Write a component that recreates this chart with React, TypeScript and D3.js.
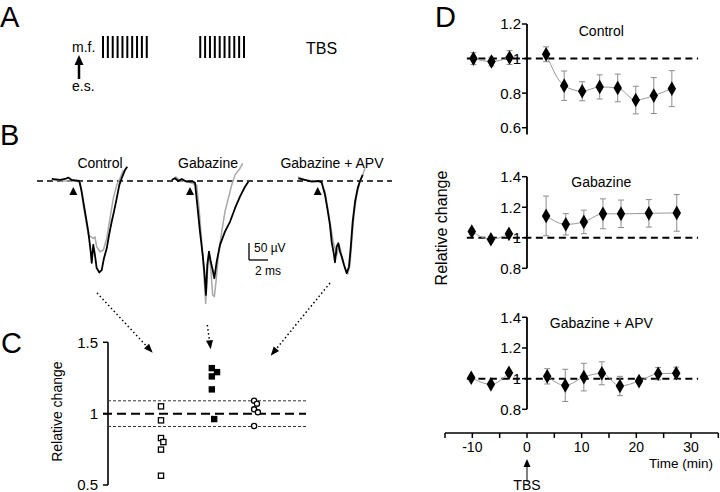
import React from "react";
import * as d3 from "d3";

// ---------- Panel A: TBS schematic ----------
const burstStarts = [0, 200]; // ms
const pulseOffsets = [0, 10, 20, 30, 40, 50, 60, 70, 80, 90]; // ms

// ---------- Panel B: field potential traces [time ms, amplitude µV] ----------
const traceNames = ["Control", "Gabazine", "Gabazine + APV"];
const controlBefore: [number, number][] = [
  [-2.27, 6], [-1.4, 3], [-0.87, 6], [-0.53, 10], [-0.17, 3], [0.63, 0], [0.88, -31], [1.23, -90],
  [1.58, -149], [1.83, -208], [1.94, -241], [2.1, -188], [2.28, -218], [2.46, -256], [2.74, -269],
  [2.99, -262], [3.23, -227], [3.52, -198], [3.76, -159], [4.04, -120], [4.28, -90], [4.57, -51],
  [4.84, -12], [5.09, 8], [5.44, 32], [5.68, 42],
];
const controlAfter: [number, number][] = [
  [-2.24, 3], [-1.19, 0], [-0.35, 0], [0.71, -2], [1.05, -71], [1.58, -159], [2.1, -169], [2.28, -164],
  [2.46, -193], [2.81, -208], [3.16, -203], [3.52, -169], [3.86, -110], [4.21, -51], [4.57, -12],
  [4.92, 8], [5.26, 32],
];
const gabazineBefore: [number, number][] = [
  [-1.93, 3], [-1.58, 8], [-1.23, 0], [-0.87, 6], [-0.35, -2], [0.35, -2], [0.53, -6], [0.77, -71],
  [1.05, -149], [1.34, -218], [1.51, -267], [1.68, -335], [1.82, -247], [2.0, -208], [2.18, -237],
  [2.39, -262], [2.56, -286], [2.81, -237], [3.16, -188], [3.68, -149], [4.21, -120], [4.74, -80],
  [5.26, -46], [5.79, -17], [6.14, -2],
];
const gabazineAfter: [number, number][] = [
  [-1.89, 3], [-1.47, 12], [-1.05, 0], [-0.42, 0], [0.71, -12], [0.98, -90], [1.23, -179], [1.47, -276],
  [1.65, -360], [1.82, -276], [2.0, -208], [2.18, -257], [2.39, -335], [2.56, -340], [2.74, -296],
  [2.98, -218], [3.34, -149], [3.68, -90], [4.03, -51], [4.39, -12], [4.74, 18], [5.26, 37], [5.55, 52],
];
const apvBefore: [number, number][] = [
  [-2.04, 8], [-1.34, 3], [-0.63, -2], [0.06, 0], [0.42, -4], [0.77, -41], [1.01, -80], [1.29, -129],
  [1.47, -179], [1.72, -218], [1.82, -239], [2.0, -193], [2.17, -183], [2.35, -208], [2.53, -223],
  [2.77, -247], [3.05, -271], [3.29, -252], [3.47, -198], [3.68, -120], [3.93, -61], [4.21, -21],
  [4.45, 0], [4.74, 18],
];
const apvAfter: [number, number][] = [
  [-2.07, 12], [-1.34, 3], [-0.6, 0], [0.35, -3], [0.77, -31], [1.29, -120], [1.64, -179], [2.0, -218],
  [2.27, -188], [2.53, -218], [2.88, -257], [3.16, -274], [3.4, -247], [3.58, -179], [3.82, -100],
  [4.11, -41], [4.45, -2], [4.8, 23], [4.98, 38],
];

// ---------- Panel C: individual relative changes ----------
const cCategories = ["Control", "Gabazine", "Gabazine + APV"];
const cControl = [1.051, 0.953, 0.829, 0.801, 0.748, 0.565];
const cControlJitter = [0, 0, 0, 0.05, 0, 0];
const cGabazine = [1.319, 1.291, 1.261, 1.17, 0.962];
const cGabazineJitter = [0.07, 0.18, 0.07, 0.07, 0.12];
const cApv = [1.091, 1.07, 1.03, 1.009, 0.913];
const cApvJitter = [-0.04, 0.02, -0.04, 0.04, -0.04];
const cTicks = [0.5, 1, 1.5];
const cBandLines = [0.91, 1.09];

// ---------- Panel D: time course ----------
const dTimeTicks = [-15, -10, -5, 0, 5, 10, 15, 20, 25, 30, 35];
const dTimeLabels = [-10, 0, 10, 20, 30];

const dControlTime = [-9.8, -6.5, -3.2, 3.5, 6.8, 10.1, 13.3, 16.6, 19.9, 23.2, 26.5];
const dControlMean = [1.0, 0.983, 1.006, 1.025, 0.843, 0.811, 0.836, 0.83, 0.76, 0.786, 0.826];
const dControlErr = [0.034, 0.025, 0.04, 0.043, 0.085, 0.055, 0.07, 0.08, 0.08, 0.104, 0.104];

const dGabazineTime = [-10.1, -6.6, -3.3, 3.5, 7.1, 10.4, 13.9, 17.2, 22.3, 27.4];
const dGabazineMean = [1.041, 0.99, 1.026, 1.143, 1.088, 1.104, 1.157, 1.157, 1.16, 1.163];
const dGabazineErr = [0.01, 0.01, 0.012, 0.13, 0.07, 0.077, 0.098, 0.09, 0.09, 0.12];

const dApvTime = [-10.2, -6.6, -3.3, 3.7, 7.0, 10.4, 13.7, 17.0, 20.5, 24.0, 27.3];
const dApvMean = [1.006, 0.963, 1.038, 1.015, 0.956, 1.01, 1.035, 0.952, 0.984, 1.032, 1.035];
const dApvErr = [0.01, 0.01, 0.01, 0.05, 0.105, 0.09, 0.075, 0.063, 0.015, 0.04, 0.04];

const dControlTicks = [0.6, 0.8, 1, 1.2];
const dOtherTicks = [0.8, 1, 1.2, 1.4];

const FONT = "'Liberation Sans', Arial, Helvetica, sans-serif";
const GRAY_TRACE = "#a8a8a8";
const ERR = "#8c8c8c";
const fmt = (v: number) => (v === 1 ? "1" : v.toFixed(1));

function Arrow({ x1, y1, x2, y2, dotted, head = 8, width = 7, sw = 1.5 }: any) {
  const ang = Math.atan2(y2 - y1, x2 - x1);
  const bx = x2 - head * Math.cos(ang);
  const by = y2 - head * Math.sin(ang);
  const px = -Math.sin(ang) * (width / 2);
  const py = Math.cos(ang) * (width / 2);
  return (
    <g>
      <line x1={x1} y1={y1} x2={bx} y2={by} stroke="#000" strokeWidth={sw}
        strokeDasharray={dotted ? "1.5,2.6" : undefined} />
      <path d={`M${x2},${y2}L${bx + px},${by + py}L${bx - px},${by - py}Z`} fill="#000" />
    </g>
  );
}

function DSubplot({ times, means, errs, y, ticks, axisBottom, title, titleY, x }: any) {
  const idx = d3.range(times.length);
  const pre = idx.filter((i) => times[i] < 0);
  const post = idx.filter((i) => times[i] > 0);
  const line = d3.line<number>().x((i) => x(times[i])).y((i) => y(means[i])).curve(d3.curveMonotoneX);
  const x0 = x(0);
  const diamond = d3.symbol().type(d3.symbolDiamond).size(62)();
  return (
    <g>
      <line x1={x(-11)} x2={x(31.3)} y1={y(1)} y2={y(1)} stroke="#000" strokeWidth={2} strokeDasharray="7,4.5" />
      <line x1={x0} x2={x0} y1={y(ticks[ticks.length - 1])} y2={y(axisBottom)} stroke="#000" strokeWidth={1.8} />
      {ticks.map((t: number) => (
        <g key={t}>
          <line x1={x0 - 5} x2={x0} y1={y(t)} y2={y(t)} stroke="#000" strokeWidth={1.5} />
          <text x={x0 - 6} y={y(t)} dy="0.36em" textAnchor="end" fontSize={15}>{fmt(t)}</text>
        </g>
      ))}
      <path d={line(pre) || ""} fill="none" stroke="#999" strokeWidth={1} />
      <path d={line(post) || ""} fill="none" stroke="#999" strokeWidth={1} />
      {idx.map((i) => (
        <g key={"e" + i} stroke={ERR} strokeWidth={1}>
          <line x1={x(times[i])} x2={x(times[i])} y1={y(means[i] - errs[i])} y2={y(means[i] + errs[i])} />
          <line x1={x(times[i]) - 3} x2={x(times[i]) + 3} y1={y(means[i] - errs[i])} y2={y(means[i] - errs[i])} />
          <line x1={x(times[i]) - 3} x2={x(times[i]) + 3} y1={y(means[i] + errs[i])} y2={y(means[i] + errs[i])} />
        </g>
      ))}
      {idx.map((i) => (
        <path key={"p" + i} d={diamond || ""} transform={`translate(${x(times[i])},${y(means[i])})`} fill="#000" />
      ))}
      <text x={x(13.6)} y={titleY} textAnchor="middle" fontSize={14}>{title}</text>
    </g>
  );
}

export default function App() {
  // Panel A
  const ax = d3.scaleLinear().domain([0, 290]).range([103, 244]);
  const pulses = burstStarts.flatMap((b) => pulseOffsets.map((p) => b + p));

  // Panel B
  const traceOrigins = [73.3, 190, 317.7];
  const bY = d3.scaleLinear().domain([0, -50]).range([181, 198]);
  const msPx = 9.5;
  const traceSets = [
    [controlBefore, controlAfter],
    [gabazineBefore, gabazineAfter],
    [apvBefore, apvAfter],
  ];
  const traceTitleX = [100, 208, 332];
  const barDy = 62; // scale bar offset below baseline
  const barX = 249;

  // Panel C
  const cx = d3.scalePoint<string>().domain(cCategories).range([161, 256]);
  const cStep = cx.step();
  const cy = d3.scaleLinear().domain([0.5, 1.5]).range([485, 342.3]);
  const cAxisX = 108;

  // Panel D
  const dx = d3.scaleLinear().domain([-15, 35]).range([445, 718.3]);
  const yCtrl = d3.scaleLinear().domain([0.6, 1.2]).range([127.7, 24]);
  const yGab = d3.scaleLinear().domain([0.8, 1.4]).range([268.3, 176.7]);
  const yApv = d3.scaleLinear().domain([0.8, 1.4]).range([409.3, 317.3]);
  const axisY = 433;

  return (
    <svg width={720} height={492} style={{ position: "absolute", left: 0, top: 0, background: "#fff" }}
      fontFamily={FONT}>
      <rect width={720} height={492} fill="#fff" />
      {/* Panel letters */}
      <text x={0} y={26.5} fontSize={29}>A</text>
      <text x={0} y={145} fontSize={29}>B</text>
      <text x={1} y={353} fontSize={29}>C</text>
      <text x={435} y={26.5} fontSize={29}>D</text>

      {/* ---- Panel A ---- */}
      <text x={72} y={52} fontSize={14}>m.f.</text>
      <Arrow x1={79} y1={79} x2={79} y2={55} head={10} width={9} sw={2.5} />
      <text x={72} y={91} fontSize={14}>e.s.</text>
      {pulses.map((p) => (
        <line key={p} x1={ax(p)} x2={ax(p)} y1={36} y2={58} stroke="#000" strokeWidth={2} />
      ))}
      <text x={306} y={54} fontSize={16}>TBS</text>

      {/* ---- Panel B ---- */}
      <line x1={37} x2={392} y1={181} y2={181} stroke="#000" strokeWidth={1.6} strokeDasharray="6,4" />
      {traceSets.map((set, k) => {
        const bx = d3.scaleLinear().domain([0, 1]).range([traceOrigins[k], traceOrigins[k] + msPx]);
        const ln = d3.line<[number, number]>().x((d) => bx(d[0])).y((d) => bY(d[1]));
        return (
          <g key={k}>
            <path d={ln(set[1]) || ""} fill="none" stroke={GRAY_TRACE} strokeWidth={1.5} strokeLinejoin="round" />
            <path d={ln(set[0]) || ""} fill="none" stroke="#000" strokeWidth={1.8} strokeLinejoin="round" />
            <path d={`M${bx(0)},187L${bx(0) - 4},195L${bx(0) + 4},195Z`} fill="#000" />
            <text x={traceTitleX[k]} y={168} textAnchor="middle" fontSize={14}>{traceNames[k]}</text>
          </g>
        );
      })}
      {/* scale bar: 50 µV x 2 ms */}
      <line x1={barX} x2={barX} y1={bY(0) + barDy} y2={bY(-50) + barDy} stroke="#000" strokeWidth={1.3} />
      <line x1={barX} x2={barX + 2 * msPx} y1={bY(-50) + barDy} y2={bY(-50) + barDy} stroke="#000" strokeWidth={1.3} />
      <text x={254} y={252} fontSize={12}>50 µV</text>
      <text x={255} y={275} fontSize={12}>2 ms</text>

      {/* dotted arrows B -> C */}
      <Arrow x1={97} y1={293} x2={152.7} y2={352.7} dotted head={9} width={7} />
      <Arrow x1={207.3} y1={325} x2={210.7} y2={349.3} dotted head={9} width={7} />
      <Arrow x1={330} y1={283} x2={270.7} y2={355.7} dotted head={9} width={7} />

      {/* ---- Panel C ---- */}
      <line x1={cAxisX} x2={cAxisX} y1={cy(1.5)} y2={cy(0.5)} stroke="#000" strokeWidth={1.6} />
      {cTicks.map((t) => (
        <g key={t}>
          <line x1={cAxisX - 5} x2={cAxisX} y1={cy(t)} y2={cy(t)} stroke="#000" strokeWidth={1.5} />
          <text x={cAxisX - 10} y={cy(t)} dy="0.36em" textAnchor="end" fontSize={15}>{fmt(t)}</text>
        </g>
      ))}
      <text transform={`translate(62,${cy(1) - 2}) rotate(-90)`} textAnchor="middle" fontSize={14}>Relative change</text>
      {cBandLines.map((b) => (
        <line key={b} x1={cAxisX} x2={308} y1={cy(b)} y2={cy(b)} stroke="#333" strokeWidth={1} strokeDasharray="3,2" />
      ))}
      <line x1={cAxisX - 5} x2={306} y1={cy(1)} y2={cy(1)} stroke="#000" strokeWidth={2} strokeDasharray="9,5" />
      {cControl.map((v, i) => (
        <rect key={"cc" + i} x={(cx("Control") as number) + cControlJitter[i] * cStep - 2.6} y={cy(v) - 2.6}
          width={5.2} height={5.2} fill="#fff" stroke="#000" strokeWidth={1.3} />
      ))}
      {cGabazine.map((v, i) => (
        <rect key={"cg" + i} x={(cx("Gabazine") as number) + cGabazineJitter[i] * cStep - 3.2} y={cy(v) - 3.2}
          width={6.4} height={6.4} fill="#000" />
      ))}
      {cApv.map((v, i) => (
        <circle key={"ca" + i} cx={(cx("Gabazine + APV") as number) + cApvJitter[i] * cStep} cy={cy(v)} r={2.6}
          fill="#fff" stroke="#000" strokeWidth={1.3} />
      ))}

      {/* ---- Panel D ---- */}
      <DSubplot times={dControlTime} means={dControlMean} errs={dControlErr} y={yCtrl} ticks={dControlTicks}
        axisBottom={0.56} title="Control" titleY={36} x={dx} />
      <DSubplot times={dGabazineTime} means={dGabazineMean} errs={dGabazineErr} y={yGab} ticks={dOtherTicks}
        axisBottom={0.8} title="Gabazine" titleY={187} x={dx} />
      <DSubplot times={dApvTime} means={dApvMean} errs={dApvErr} y={yApv} ticks={dOtherTicks}
        axisBottom={0.8} title="Gabazine + APV" titleY={328} x={dx} />
      <text transform="translate(447,228) rotate(-90)" textAnchor="middle" fontSize={16}>Relative change</text>

      <line x1={dx(-15)} x2={dx(35)} y1={axisY} y2={axisY} stroke="#000" strokeWidth={1.6} />
      {dTimeTicks.map((t) => (
        <line key={t} x1={dx(t)} x2={dx(t)} y1={axisY} y2={axisY + 5} stroke="#000" strokeWidth={1.5} />
      ))}
      {dTimeLabels.map((t) => (
        <text key={t} x={dx(t)} y={452} textAnchor="middle" fontSize={14}>{t}</text>
      ))}
      <text x={713} y={468} textAnchor="end" fontSize={13.5}>Time (min)</text>
      <Arrow x1={dx(0)} y1={482} x2={dx(0)} y2={459} head={8} width={7} sw={1} />
      <text x={dx(0)} y={490} textAnchor="middle" fontSize={14}>TBS</text>
    </svg>
  );
}
